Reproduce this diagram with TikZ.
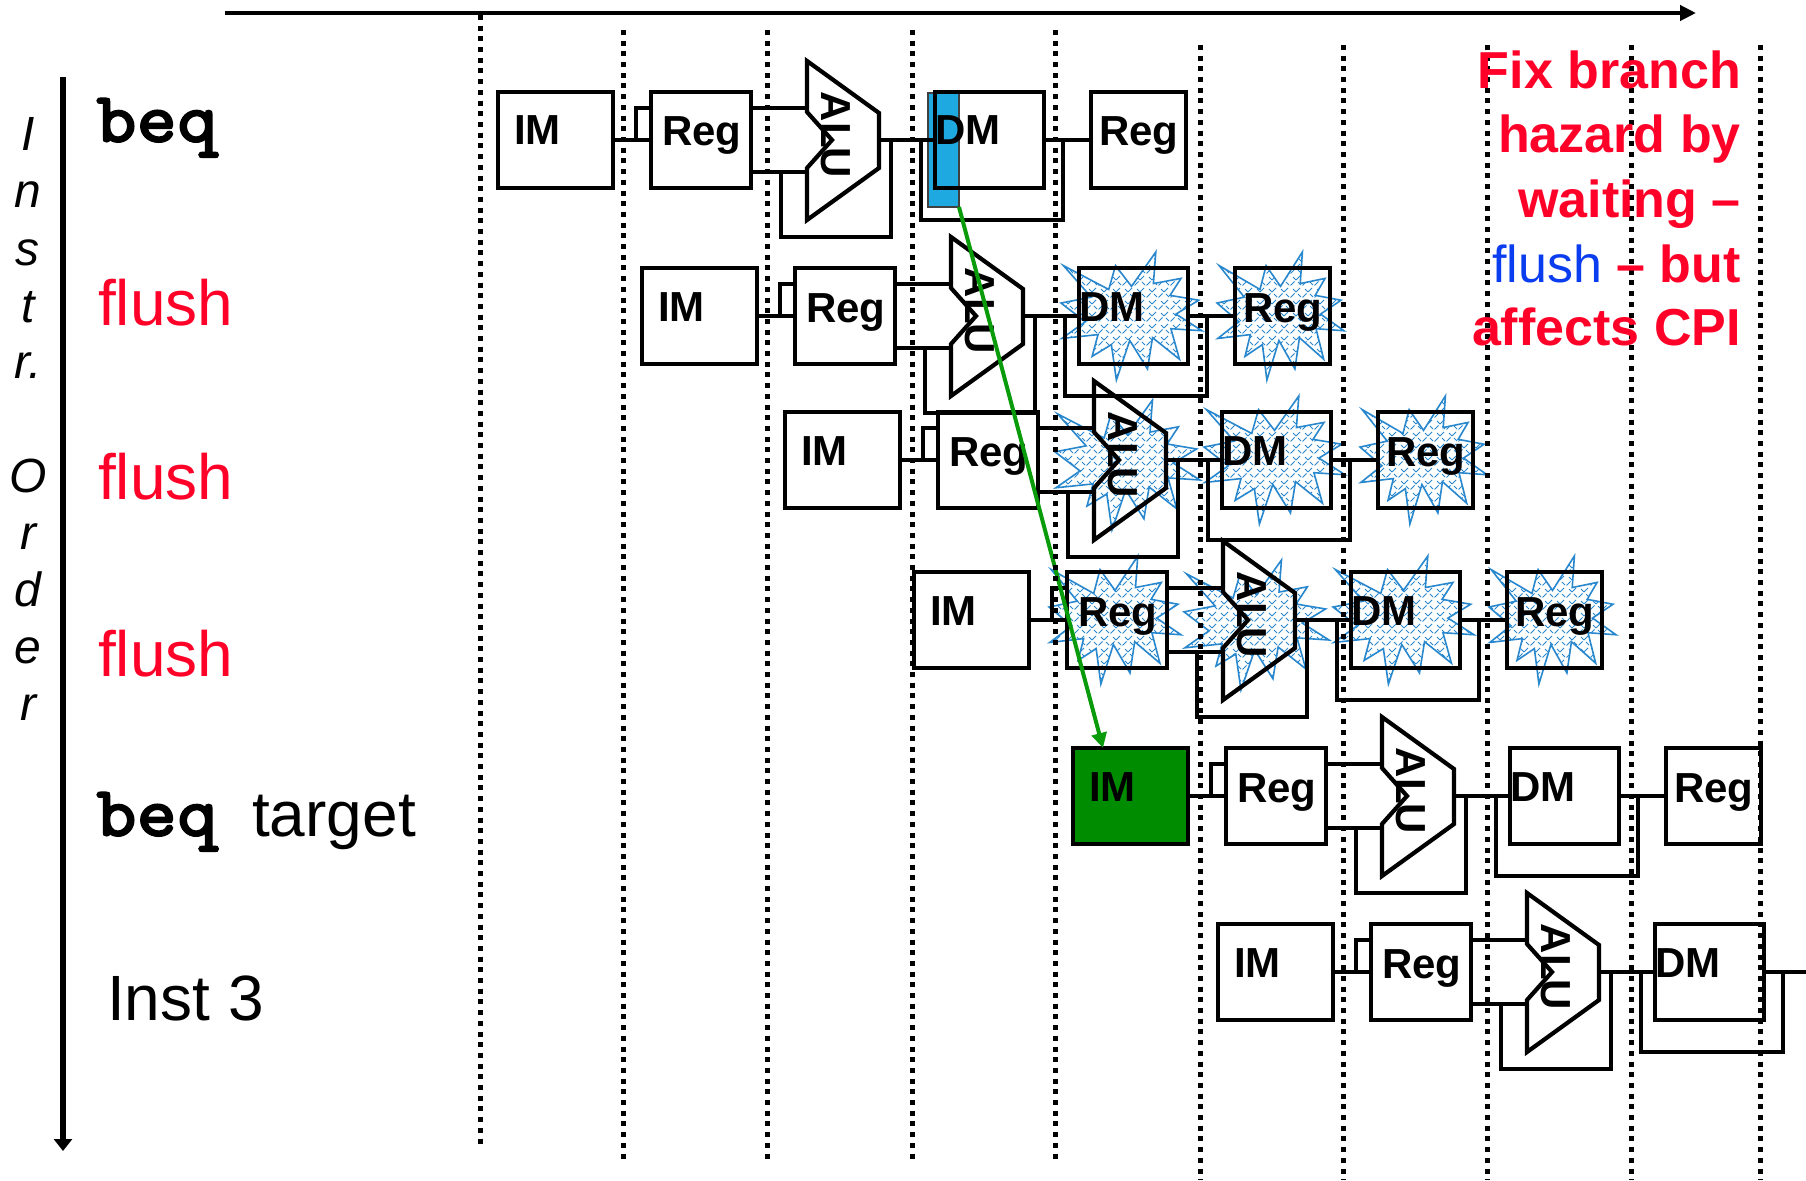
\documentclass[tikz,border=0pt]{standalone}
\usepackage{fontspec}
\setmainfont{Liberation Sans}
\newfontfamily\courb{lmmonolt10-bold.otf}[FakeBold=1.6,FakeStretch=1.07]
\usetikzlibrary{calc,arrows.meta,patterns.meta}
\definecolor{hred}{RGB}{255,0,40}
\definecolor{hblue}{RGB}{10,60,240}
\definecolor{boomblue}{RGB}{40,135,205}
\definecolor{cyanfill}{RGB}{30,170,225}
\definecolor{imgreen}{RGB}{0,140,0}
\definecolor{arrgreen}{RGB}{10,155,10}
\pgfdeclarepattern{
  name=dashhatch,
  type=uncolored,
  bottom left={\pgfpoint{-0.5pt}{-0.5pt}},
  top right={\pgfpoint{12.5pt}{12.5pt}},
  tile size={\pgfpoint{12pt}{12pt}},
  code={
    \pgfsetlinewidth{0.9pt}
    \pgfpathmoveto{\pgfpoint{0pt}{0pt}}\pgfpathlineto{\pgfpoint{4pt}{4pt}}
    \pgfpathmoveto{\pgfpoint{6.5pt}{6.5pt}}\pgfpathlineto{\pgfpoint{10.5pt}{10.5pt}}
    \pgfpathmoveto{\pgfpoint{12pt}{0pt}}\pgfpathlineto{\pgfpoint{9pt}{3pt}}
    \pgfpathmoveto{\pgfpoint{5pt}{7pt}}\pgfpathlineto{\pgfpoint{2pt}{10pt}}
    \pgfusepath{stroke}
  }
}
\tikzset{
  blk/.style={draw=black, line width=4.2pt, minimum height=96pt, anchor=north west, outer sep=0pt, inner sep=0pt},
  wire/.style={draw=black, line width=3.8pt, line join=miter},
  alust/.style={draw=black, line width=4.2pt, line join=miter},
  lbl/.style={font=\bfseries\fontsize{42}{48}\selectfont, inner sep=0pt},
  dotl/.style={draw=black, line width=5pt, dash pattern=on 5pt off 5.7pt},
  boomst/.style={draw=boomblue, line width=1.6pt, pattern=dashhatch, pattern color=boomblue},
  rowlbl/.style={anchor=base west, inner sep=0pt, font=\fontsize{64}{70}\selectfont},
  mono/.style={anchor=base west, inner sep=0pt, font=\courb\fontsize{72}{76}\selectfont},
  vlet/.style={anchor=base, inner sep=0pt, font=\itshape\fontsize{48}{52}\selectfont},
  note/.style={anchor=base east, inner sep=0pt, text=hred, font=\bfseries\fontsize{52}{60}\selectfont}
}
% explosion shape inside box (x1,y1)-(x2,y2)
\newcommand{\boom}[4]{%
  \pgfmathsetmacro{\bxa}{#1}\pgfmathsetmacro{\bya}{#2}%
  \pgfmathsetmacro{\bsx}{(#3-#1)/100}\pgfmathsetmacro{\bsy}{(#4-#2)/100}%
  \draw[boomst] ({\bxa+50*\bsx},{\bya+26.85*\bsy})
    \foreach \u/\v in {67.23/0,65.53/24.65,85.09/20.63,77.32/33.87,97.67/37.67,81.51/48.50,100/61.53,77.95/59.92,84.00/83.77,64.91/66.93,61.33/91.38,48.76/69.14,39.28/100,35.72/72.35,22.05/81.56,26.24/64.52,0.63/67.53,17.23/54.51,0/39.88,21.42/35.26,1.71/10.63,33.85/29.26,38.67/10.63}{ -- ({\bxa+\u*\bsx},{\bya+\v*\bsy})} -- cycle;%
}
% IM, Reg, ALU, DM of one instruction
\newcommand{\front}[4]{%
  \node[blk, fill=#4, minimum width=115pt] (#1im) at (#2,#3) {};
  \node[blk, minimum width=100pt] (#1reg) at ({#2+153},#3) {};
  \node[blk, minimum width=109pt] (#1dm) at ({#2+437},#3) {};
  \coordinate (#1ain) at ({#2+309},{#3+16});
  \coordinate (#1bin) at ({#2+309},{#3+80});
  \coordinate (#1aout) at ({#2+381},{#3+48});
  \draw[alust] ({#2+309},{#3-31}) -- ({#2+381},{#3+21}) -- ({#2+381},{#3+76}) -- ({#2+309},{#3+128})
     -- ({#2+309},{#3+76}) -- ({#2+334},{#3+48}) -- ({#2+309},{#3+20}) -- cycle;
  \draw[wire] (#1im.east) -- (#1reg.west);
  \draw[wire] ({#2+138},{#3+48}) |- ({#2+153},{#3+16});
  \draw[wire] ({#2+253},{#3+16}) -- (#1ain);
  \draw[wire] ({#2+253},{#3+80}) -- (#1bin);
  \draw[wire] ({#2+283},{#3+80}) |- ({#2+393},{#3+145}) -- ({#2+393},{#3+48});
  \draw[wire] (#1aout) -- (#1dm.west);
  \draw[wire] ({#2+423},{#3+48}) |- ({#2+565},{#3+128}) -- ({#2+565},{#3+48});
  \node[lbl, anchor=base west] at ({#2+16},{#3+53}) {IM};
  \node[lbl, anchor=base west] at ({#2+164},{#3+54}) {Reg};
  \node[lbl, anchor=base west] at ({#2+437},{#3+53}) {DM};
  \node[lbl, rotate=-90] at ({#2+338},{#3+43}) {ALU};
}
% write-back Reg of one instruction
\newcommand{\back}[3]{%
  \node[blk, minimum width=95pt] (#1wb) at ({#2+593},#3) {};
  \draw[wire] (#1dm.east) -- (#1wb.west);
  \node[lbl, anchor=base west] at ({#2+601},{#3+54}) {Reg};
}
\begin{document}
\begin{tikzpicture}[x=1pt,y=-1pt]
\useasboundingbox (0,0) rectangle (1806,1180);
% time axis and order axis
\coordinate (t0) at (225,13);
\coordinate (t1) at (1696,13);
\draw[line width=4pt, -{Triangle[length=16pt,width=15pt]}] (t0) -- (t1);
\coordinate (o0) at (63,77);
\coordinate (o1) at (63,1151);
\draw[line width=6pt, -{Triangle[length=12pt,width=18pt]}] (o0) -- (o1);
% vertical label
\foreach \ch/\yy in {I/150,n/207,s/265,t/322,r./378,O/492,r/549,d/606,e/663,r/720}
  \node[vlet] at (28,\yy) {\ch};
% row labels
\node[mono] at (96,142) {beq};
\node[rowlbl, text=hred] at (98,325) {flush};
\node[rowlbl, text=hred] at (98,499) {flush};
\node[rowlbl, text=hred] at (98,676) {flush};
\node[mono] at (96,836) {beq};
\node[rowlbl] at (252,836) {target};
\node[rowlbl] at (107,1020) {Inst 3};
% explosions (flushed stages)
\boom{1061}{252}{1202}{380}
\boom{1217}{252}{1344}{380}
\boom{1055}{400}{1200}{530}
\boom{1204}{396}{1345}{524}
\boom{1360}{396}{1487}{524}
\boom{1049}{556}{1181}{684}
\boom{1184}{560}{1329}{690}
\boom{1333}{556}{1474}{684}
\boom{1489}{556}{1616}{684}
% branch decision highlight
\node[draw=black!75, line width=1.5pt, fill=cyanfill, anchor=north west, minimum width=31pt, minimum height=114pt, inner sep=0pt, outer sep=0pt] (brk) at (928,93) {};
% pipeline rows
\front{r1}{498}{92}{white}
\back{r1}{498}{92}
\front{r2}{642}{268}{white}
\back{r2}{642}{268}
\front{r3}{785}{412}{white}
\back{r3}{785}{412}
\front{r4}{914}{572}{white}
\back{r4}{914}{572}
\front{r5}{1073}{748}{imgreen}
\back{r5}{1073}{748}
\front{r6}{1218}{924}{white}
\coordinate (edge6) at (1806,972);
\draw[wire] (r6dm.east) -- (edge6);
% branch target arrow
\draw[arrgreen, line width=4pt, -{Triangle[length=15pt,width=15pt]}] (brk.south east) -- ($(r5im.north west)+(30,0)$);
% clock-cycle lines
\foreach \x/\a/\b in {480/15/1147, 623/30/1163, 767/30/1163, 912/30/1163, 1055/30/1163, 1200/45/1180, 1343/45/1180, 1487/45/1180, 1631/45/1180, 1760/45/1180}
  \draw[dotl] (\x,\a) -- (\x,\b);
% note
\node[note] at (1741,89) {Fix branch};
\node[note] at (1741,153) {hazard by};
\node[note] at (1741,217) {waiting –};
\node[note] at (1741,282) {{\mdseries\color{hblue}flush} – but};
\node[note] at (1741,345) {affects CPI};
\end{tikzpicture}
\end{document}
